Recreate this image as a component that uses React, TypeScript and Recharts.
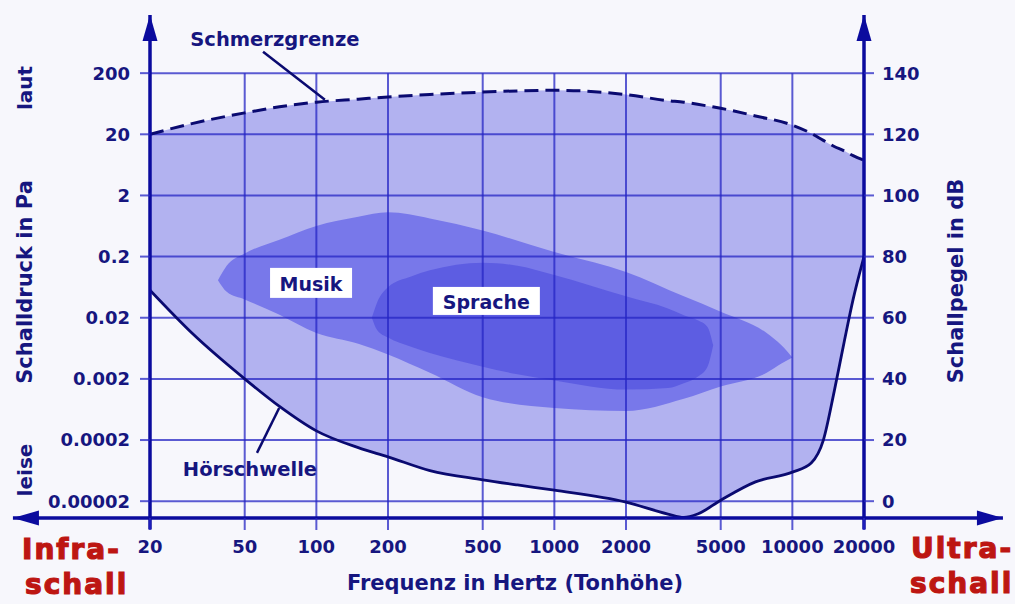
import React from "react";
import {
  ComposedChart,
  Area,
  Line,
  XAxis,
  YAxis,
  ReferenceLine,
  ReferenceDot,
} from "recharts";

// axes
const FREQ_TICKS = [20, 50, 100, 200, 500, 1000, 2000, 5000, 10000, 20000];
const DB_TICKS = [0, 20, 40, 60, 80, 100, 120, 140];
const PA_LABELS = ["0.00002", "0.0002", "0.002", "0.02", "0.2", "2", "20", "200"];

// audible range: hearing threshold and pain threshold (dB) per frequency (Hz)
const FREQ = [20, 30, 50, 70, 100, 150, 200, 300, 500, 700, 1000, 2000, 3000, 3500, 4000, 5000, 7000, 10000, 12000, 13500, 15000, 16500, 18000, 20000];
const HOERSCHWELLE = [69, 55, 40, 31, 23, 17.5, 14.5, 10, 7, 5.3, 3.6, -0.3, -4.2, -5.3, -4.2, 0.3, 6.3, 9.5, 12.5, 20, 36, 52, 66, 80];
const SCHMERZGRENZE = [120, 123.5, 127, 129, 130.5, 131.5, 132.2, 133, 133.8, 134.2, 134.4, 133, 131, 130.5, 129.8, 128.5, 126, 123, 120.3, 118, 116, 114.6, 113, 111.5];

// music range
const MUSIK_FREQ = [38.6, 42, 50, 70, 100, 150, 200, 300, 500, 1000, 2000, 3500, 5000, 7800, 9000, 10000];
const MUSIK_LO = [72.3, 68.5, 66, 61, 55, 51.5, 48, 42, 34, 30.5, 29.5, 33.5, 37.5, 42, 45, 47];
const MUSIK_HI = [72.3, 77, 81, 85.5, 90, 93, 94.5, 92.5, 88.5, 81.5, 75, 67, 62, 55, 51, 47];

// speech range
const SPRACHE_FREQ = [171, 180, 200, 250, 300, 500, 700, 1000, 2000, 3000, 3500, 4000, 4400, 4650];
const SPRACHE_LO = [60, 56, 53.5, 50.5, 48.5, 44, 41.5, 39.5, 36.5, 37, 38.6, 40.7, 44, 51];
const SPRACHE_HI = [60, 65, 70, 73.5, 75.5, 78, 77, 74, 67, 63, 60.8, 59.2, 57, 51];

const hearing = FREQ.map((f, i) => ({ f, hs: HOERSCHWELLE[i], sg: SCHMERZGRENZE[i] }));
const musik = MUSIK_FREQ.map((f, i) => ({ f, lo: MUSIK_LO[i], hi: MUSIK_HI[i] }));
const sprache = SPRACHE_FREQ.map((f, i) => ({ f, lo: SPRACHE_LO[i], hi: SPRACHE_HI[i] }));

const Y_MIN = -5.5;
const Y_MAX = 160;

const BG = "#f7f7fc";
const AREA_FILL = "#b2b2f0";
const MUSIK_FILL = "#7878ea";
const SPRACHE_FILL = "#5d5de2";
const GRID = "#2626c4";
const GRID_OPACITY = 0.75;
const AXIS = "#0b0b9e";
const CURVE = "#0a0a70";
const TEXT = "#16167f";
const RED = "#bd1612";
const FONT = "DejaVu Sans, Verdana, sans-serif";

const arrowShape = (both: boolean) => (p: any) => {
  const { x1, y1, x2, y2 } = p;
  const head = (tx: number, ty: number, fx: number, fy: number) => {
    const dx = tx - fx;
    const dy = ty - fy;
    const len = Math.hypot(dx, dy) || 1;
    const ux = dx / len;
    const uy = dy / len;
    const L = 26;
    const W = 7.5;
    const bx = tx - ux * L;
    const by = ty - uy * L;
    return `${tx},${ty} ${bx - uy * W},${by + ux * W} ${bx + uy * W},${by - ux * W}`;
  };
  return (
    <g>
      <line x1={x1} y1={y1} x2={x2} y2={y2} stroke={AXIS} strokeWidth={3.5} />
      <polygon points={head(x2, y2, x1, y1)} fill={AXIS} />
      {both && <polygon points={head(x1, y1, x2, y2)} fill={AXIS} />}
    </g>
  );
};

const textLabel = (text: string, size: number) => (p: any) => (
  <text
    x={p.cx}
    y={p.cy}
    textAnchor="middle"
    dominantBaseline="central"
    fontFamily={FONT}
    fontWeight="bold"
    fontSize={size}
    fill={TEXT}
  >
    {text}
  </text>
);

const boxLabel = (text: string, w: number, h: number) => (p: any) => (
  <g>
    <rect x={p.cx - w / 2} y={p.cy - h / 2} width={w} height={h} fill="#ffffff" />
    <text
      x={p.cx}
      y={p.cy + 1}
      textAnchor="middle"
      dominantBaseline="central"
      fontFamily={FONT}
      fontWeight="bold"
      fontSize={19}
      fill={TEXT}
    >
      {text}
    </text>
  </g>
);

const tickStyle = { fill: TEXT, fontSize: 18, fontWeight: "bold", fontFamily: FONT };
const tickLineStyle = { stroke: GRID, strokeWidth: 2, strokeOpacity: GRID_OPACITY };

export default function App() {
  return (
    <div style={{ position: "absolute", left: 0, top: 0, width: 1015, height: 604, background: BG }}>
      <ComposedChart width={1015} height={604} margin={{ top: 12, right: 0, bottom: 0, left: 0 }}>
        <XAxis
          dataKey="f"
          type="number"
          scale="log"
          domain={[20, 20000]}
          allowDataOverflow
          ticks={FREQ_TICKS}
          interval={0}
          height={86}
          axisLine={false}
          tickSize={12}
          tickMargin={10}
          tickLine={tickLineStyle}
          tick={tickStyle}
        />
        <YAxis
          yAxisId="pa"
          orientation="left"
          type="number"
          width={150}
          domain={[Y_MIN, Y_MAX]}
          allowDataOverflow
          ticks={DB_TICKS}
          interval={0}
          tickFormatter={(v: number) => PA_LABELS[DB_TICKS.indexOf(v)]}
          axisLine={false}
          tickSize={10}
          tickMargin={10}
          tickLine={tickLineStyle}
          tick={tickStyle}
        />
        <YAxis
          yAxisId="db"
          orientation="right"
          type="number"
          width={151}
          domain={[Y_MIN, Y_MAX]}
          allowDataOverflow
          ticks={DB_TICKS}
          interval={0}
          axisLine={false}
          tickSize={10}
          tickMargin={8}
          tickLine={tickLineStyle}
          tick={tickStyle}
        />

        <Area
          yAxisId="db"
          data={hearing}
          dataKey={(d: any) => [d.hs, d.sg]}
          type="monotone"
          stroke="none"
          fill={AREA_FILL}
          fillOpacity={1}
          isAnimationActive={false}
        />
        <Area
          yAxisId="db"
          data={musik}
          dataKey={(d: any) => [d.lo, d.hi]}
          type="monotone"
          stroke="none"
          fill={MUSIK_FILL}
          fillOpacity={1}
          isAnimationActive={false}
        />
        <Area
          yAxisId="db"
          data={sprache}
          dataKey={(d: any) => [d.lo, d.hi]}
          type="monotone"
          stroke="none"
          fill={SPRACHE_FILL}
          fillOpacity={1}
          isAnimationActive={false}
        />

        {DB_TICKS.map((v) => (
          <ReferenceLine key={`h${v}`} yAxisId="db" y={v} stroke={GRID} strokeWidth={2} strokeOpacity={GRID_OPACITY} />
        ))}
        {FREQ_TICKS.slice(1, -1).map((f) => (
          <ReferenceLine
            key={`v${f}`}
            yAxisId="db"
            segment={[{ x: f, y: Y_MIN }, { x: f, y: 140 }]}
            stroke={GRID}
            strokeWidth={2}
            strokeOpacity={GRID_OPACITY}
          />
        ))}

        <Line
          yAxisId="db"
          data={hearing}
          dataKey="hs"
          type="monotone"
          stroke={CURVE}
          strokeWidth={2.8}
          dot={false}
          isAnimationActive={false}
        />
        <Line
          yAxisId="db"
          data={hearing}
          dataKey="sg"
          type="monotone"
          stroke={CURVE}
          strokeWidth={3}
          strokeDasharray="14 7"
          dot={false}
          isAnimationActive={false}
        />

        {/* pointers */}
        <ReferenceLine yAxisId="db" segment={[{ x: 59.7, y: 147 }, { x: 108.6, y: 131.3 }]} stroke={CURVE} strokeWidth={2.5} />
        <ReferenceLine yAxisId="db" segment={[{ x: 56.3, y: 15.8 }, { x: 69.8, y: 30.5 }]} stroke={CURVE} strokeWidth={2.5} />

        {/* axis arrows */}
        <ReferenceLine
          yAxisId="db"
          segment={[{ x: 5.31, y: Y_MIN }, { x: 76700, y: Y_MIN }]}
          ifOverflow="visible"
          shape={arrowShape(true)}
        />
        <ReferenceLine
          yAxisId="db"
          segment={[{ x: 20, y: -9.3 }, { x: 20, y: 159 }]}
          ifOverflow="visible"
          shape={arrowShape(false)}
        />
        <ReferenceLine
          yAxisId="db"
          segment={[{ x: 20000, y: -9.3 }, { x: 20000, y: 159 }]}
          ifOverflow="visible"
          shape={arrowShape(false)}
        />

        {/* annotations */}
        <ReferenceDot yAxisId="db" x={67} y={150.9} r={0} shape={textLabel("Schmerzgrenze", 19.5)} />
        <ReferenceDot yAxisId="db" x={52.6} y={10.2} r={0} shape={textLabel("Hörschwelle", 19.5)} />
        <ReferenceDot yAxisId="db" x={95} y={71.4} r={0} shape={boxLabel("Musik", 82, 30)} />
        <ReferenceDot yAxisId="db" x={518} y={65.5} r={0} shape={boxLabel("Sprache", 107, 28)} />
      </ComposedChart>

      <svg
        width={1015}
        height={604}
        style={{ position: "absolute", left: 0, top: 0, pointerEvents: "none" }}
        fontFamily={FONT}
        fontWeight="bold"
      >
        <g fill={TEXT} fontSize={20}>
          <text transform="translate(25,88) rotate(-90)" textAnchor="middle" dominantBaseline="central">laut</text>
          <text transform="translate(25,282) rotate(-90)" textAnchor="middle" dominantBaseline="central" fontSize={21}>
            Schalldruck in Pa
          </text>
          <text transform="translate(25,470) rotate(-90)" textAnchor="middle" dominantBaseline="central">leise</text>
          <text transform="translate(956,281) rotate(-90)" textAnchor="middle" dominantBaseline="central" fontSize={21}>
            Schallpegel in dB
          </text>
          <text x={515} y={590} textAnchor="middle" fontSize={21}>Frequenz in Hertz (Tonhöhe)</text>
        </g>
        <g fill={RED} stroke={RED} strokeWidth={1.2} fontSize={28} letterSpacing={2}>
          <text x={22} y={559}>Infra-</text>
          <text x={25} y={594}>schall</text>
          <text x={911} y={558}>Ultra-</text>
          <text x={910} y={593}>schall</text>
        </g>
      </svg>
    </div>
  );
}
